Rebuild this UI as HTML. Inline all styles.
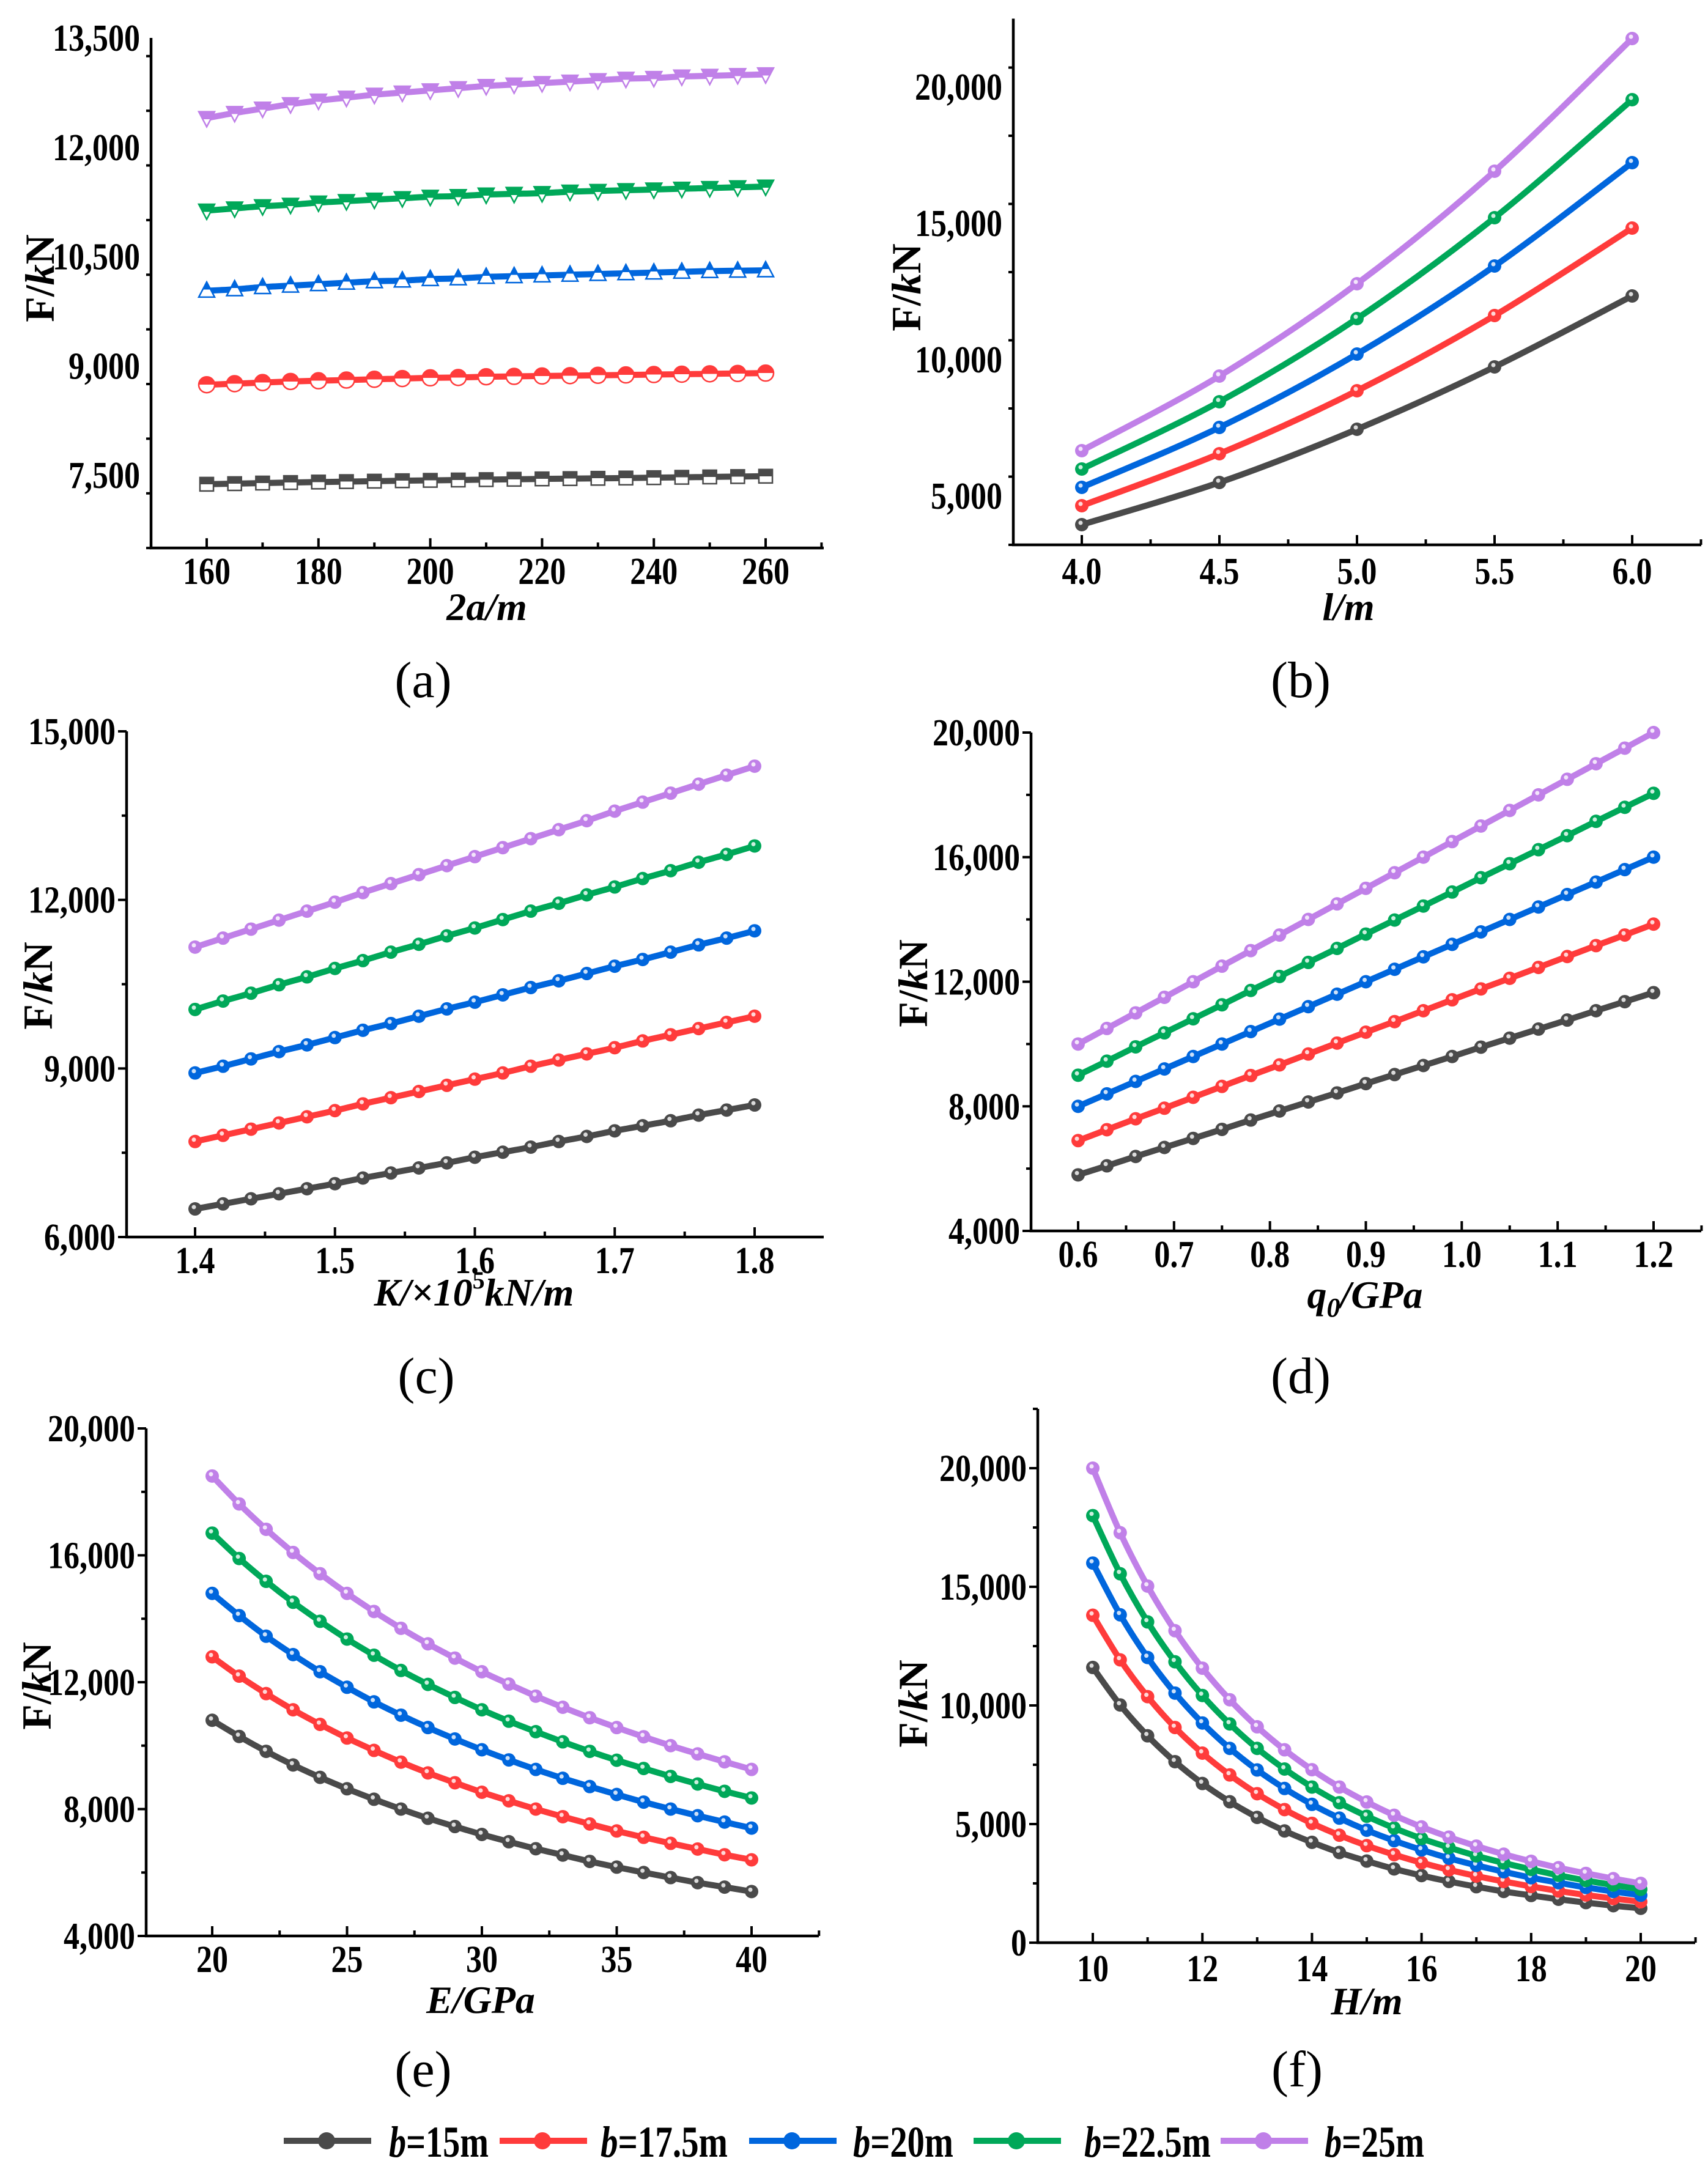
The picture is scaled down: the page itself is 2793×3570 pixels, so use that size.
<!DOCTYPE html>
<html><head><meta charset="utf-8"><style>
html,body{margin:0;padding:0;background:#fff;}
svg{display:block;font-family:"Liberation Serif",serif;}
</style></head><body>
<svg id="fig" width="2793" height="3570" viewBox="0 0 2793 3570" xmlns="http://www.w3.org/2000/svg">
<defs>
<linearGradient id="hk" x1="0" y1="0" x2="0" y2="1"><stop offset="0.5" stop-color="#4a4a4a"/><stop offset="0.5" stop-color="#fff"/></linearGradient>
<linearGradient id="hr" x1="0" y1="0" x2="0" y2="1"><stop offset="0.5" stop-color="#ff3b3b"/><stop offset="0.5" stop-color="#fff"/></linearGradient>
<linearGradient id="hb" x1="0" y1="0" x2="0" y2="1"><stop offset="0.5" stop-color="#0066dd"/><stop offset="0.5" stop-color="#fff"/></linearGradient>
<linearGradient id="hg" x1="0" y1="0" x2="0" y2="1"><stop offset="0.5" stop-color="#00a859"/><stop offset="0.5" stop-color="#fff"/></linearGradient>
<linearGradient id="hp" x1="0" y1="0" x2="0" y2="1"><stop offset="0.5" stop-color="#c080e8"/><stop offset="0.5" stop-color="#fff"/></linearGradient>
</defs>
</svg>
<script>
const seriesNames = ["b=15m","b=17.5m","b=20m","b=22.5m","b=25m"];
const seriesColors = ["#4a4a4a","#ff3b3b","#0066dd","#00a859","#c080e8"];
const halfFills = ["url(#hk)","url(#hr)","url(#hb)","url(#hg)","url(#hp)"];

// Panel (a)
const aX = [160,165,170,175,180,185,190,195,200,205,210,215,220,225,230,235,240,245,250,255,260];
const aB15 = [7375,7383,7391,7398,7405,7411,7417,7423,7428,7433,7438,7443,7448,7452,7456,7460,7465,7470,7475,7480,7485];
const aB175 = [8740,8755,8770,8785,8795,8805,8815,8825,8835,8840,8850,8855,8860,8865,8870,8875,8880,8885,8890,8895,8900];
const aB20 = [10030,10050,10080,10100,10120,10140,10160,10170,10190,10200,10220,10230,10240,10250,10260,10270,10280,10290,10300,10305,10310];
const aB225 = [11130,11160,11190,11210,11240,11260,11280,11300,11320,11330,11350,11360,11370,11390,11400,11410,11420,11430,11440,11450,11460];
const aB25 = [12400,12470,12530,12590,12640,12680,12720,12750,12780,12810,12840,12860,12880,12900,12920,12940,12950,12970,12980,12990,13000];
const aXTicks = [160,180,200,220,240,260];
const aYTicks = [7500,9000,10500,12000,13500];

// Panel (b)
const bX = [4.0,4.5,5.0,5.5,6.0];
const bB15 = [3946,5493,7444,9731,12332];
const bB175 = [4641,6547,8856,11614,14821];
const bB20 = [5314,7511,10202,13430,17220];
const bB225 = [5986,8453,11502,15202,19529];
const bB25 = [6659,9395,12780,16906,21771];
const bXTicks = [4.0,4.5,5.0,5.5,6.0];
const bYTicks = [5000,10000,15000,20000];

// Panel (c)
const cX = [1.40,1.42,1.44,1.46,1.48,1.50,1.52,1.54,1.56,1.58,1.60,1.62,1.64,1.66,1.68,1.70,1.72,1.74,1.76,1.78,1.80];
const cB15 = [6500,6590,6680,6770,6860,6950,7050,7140,7230,7320,7420,7510,7600,7700,7790,7890,7980,8070,8170,8260,8350];
const cB175 = [7700,7810,7920,8030,8140,8250,8370,8480,8590,8700,8810,8920,9040,9150,9260,9370,9490,9600,9710,9820,9930];
const cB20 = [8920,9040,9170,9300,9420,9550,9680,9800,9930,10060,10180,10310,10440,10560,10690,10820,10940,11070,11200,11320,11450];
const cB225 = [10050,10200,10340,10490,10630,10780,10920,11070,11210,11360,11500,11650,11800,11940,12090,12230,12380,12520,12670,12810,12960];
const cB25 = [11160,11320,11480,11640,11800,11960,12130,12290,12450,12610,12770,12930,13090,13250,13410,13580,13740,13900,14060,14220,14380];
const cXTicks = [1.4,1.5,1.6,1.7,1.8];
const cYTicks = [6000,9000,12000,15000];

// Panel (d)
const dX = [0.60,0.63,0.66,0.69,0.72,0.75,0.78,0.81,0.84,0.87,0.90,0.93,0.96,0.99,1.02,1.05,1.08,1.11,1.14,1.17,1.20];
const dB15 = [5800,6090,6390,6680,6970,7260,7560,7850,8140,8430,8730,9020,9310,9600,9900,10190,10480,10770,11070,11360,11650];
const dB175 = [6900,7250,7600,7940,8290,8640,8990,9330,9680,10030,10380,10720,11070,11420,11770,12110,12460,12810,13160,13500,13850];
const dB20 = [8000,8400,8800,9200,9600,10000,10400,10800,11200,11600,12000,12400,12800,13200,13600,14000,14400,14800,15200,15600,16000];
const dB225 = [9000,9450,9910,10360,10810,11260,11720,12170,12620,13070,13530,13980,14430,14880,15340,15790,16240,16690,17150,17600,18050];
const dB25 = [10000,10500,11000,11500,12000,12500,13000,13500,14000,14500,15000,15500,16000,16500,17000,17500,18000,18500,19000,19500,20000];
const dXTicks = [0.6,0.7,0.8,0.9,1.0,1.1,1.2];
const dYTicks = [4000,8000,12000,16000,20000];

// Panel (e)
const eX = [20,21,22,23,24,25,26,27,28,29,30,31,32,33,34,35,36,37,38,39,40];
const eB15 = [10800,10290,9820,9390,9000,8640,8310,8000,7710,7450,7200,6970,6750,6550,6350,6170,6000,5840,5680,5540,5400];
const eB175 = [12800,12190,11640,11130,10670,10240,9850,9480,9140,8830,8530,8260,8000,7760,7530,7310,7110,6920,6740,6560,6400];
const eB20 = [14800,14100,13450,12870,12330,11840,11380,10960,10570,10210,9870,9550,9250,8970,8710,8460,8220,8000,7790,7590,7400];
const eB225 = [16700,15900,15180,14520,13920,13360,12850,12370,11930,11520,11130,10770,10440,10120,9820,9540,9280,9030,8790,8560,8350];
const eB25 = [18500,17620,16820,16090,15420,14800,14230,13700,13210,12760,12330,11940,11560,11210,10880,10570,10280,10000,9740,9490,9250];
const eXTicks = [20,25,30,35,40];
const eYTicks = [4000,8000,12000,16000,20000];

// Panel (f)
const fX = [10,10.5,11,11.5,12,12.5,13,13.5,14,14.5,15,15.5,16,16.5,17,17.5,18,18.5,19,19.5,20];
const fB15 = [11600,10020,8720,7630,6710,5940,5280,4710,4230,3800,3440,3110,2830,2580,2360,2160,1990,1830,1690,1560,1450];
const fB175 = [13800,11920,10370,9070,7990,7070,6280,5610,5030,4530,4090,3710,3370,3070,2810,2580,2370,2180,2010,1860,1725];
const fB20 = [16000,13820,12020,10520,9260,8190,7280,6500,5830,5250,4740,4300,3910,3560,3260,2990,2740,2530,2330,2160,2000];
const fB225 = [18000,15550,13520,11840,10420,9220,8190,7320,6560,5900,5330,4830,4390,4010,3660,3360,3090,2840,2620,2430,2250];
const fB25 = [20000,17280,15030,13150,11570,10240,9100,8130,7290,6560,5930,5370,4880,4450,4070,3730,3430,3160,2920,2700,2500];
const fXTicks = [10,12,14,16,18,20];
const fYTicks = [0,5000,10000,15000,20000];

const NS = "http://www.w3.org/2000/svg";
const svg = document.getElementById('fig');
function mk(tag, attrs, parent){ const e=document.createElementNS(NS,tag); for(const k in attrs) e.setAttribute(k,attrs[k]); (parent||svg).appendChild(e); return e; }
function fmt(v,dec){ if(dec) return v.toFixed(dec); return v.toString().replace(/\B(?=(\d{3})+(?!\d))/g,","); }
function natW(s){ let w=0; for(const c of s){ w += (c===','||c==='.')?0.25:0.5; } return w; }

function smoothPath(pts){
  let d="M"+pts[0][0]+","+pts[0][1];
  for(let i=0;i<pts.length-1;i++){
    const p0=pts[Math.max(0,i-1)],p1=pts[i],p2=pts[i+1],p3=pts[Math.min(pts.length-1,i+2)];
    const c1=[p1[0]+(p2[0]-p0[0])/6,p1[1]+(p2[1]-p0[1])/6];
    const c2=[p2[0]-(p3[0]-p1[0])/6,p2[1]-(p3[1]-p1[1])/6];
    d+=" C"+c1[0]+","+c1[1]+" "+c2[0]+","+c2[1]+" "+p2[0]+","+p2[1];
  }
  return d;
}

function panel(cfg){
  const g = mk('g',{});
  
  
  const sx = v => cfg.px0 + (v-cfg.x0)/(cfg.x1-cfg.x0)*(cfg.px1-cfg.px0);
  const sy = v => cfg.py0 - (v-cfg.y0)/(cfg.y1-cfg.y0)*(cfg.py0-cfg.py1);
  const L = cfg.left, R = cfg.right, B = sy(cfg.yMin), T = sy(cfg.yMax);
  cfg.series.forEach((vals,si)=>{
    const pts = cfg.xs.map((x,i)=>[sx(x), sy(vals[i])]);
    const p = mk('path',{d:smoothPath(pts),fill:'none',stroke:seriesColors[si],'stroke-width':10,'stroke-linejoin':'round','stroke-linecap':'round'},g);
    
    
    pts.forEach((pt,i)=>{
      let m;
      if(cfg.shapes){
        const sh = cfg.shapes[si], r=13, x=pt[0], y=pt[1];
        const fill = halfFills[si];
        if(sh==='sq') m = mk('rect',{x:x-r*0.85,y:y-r*0.85,width:r*1.7,height:r*1.7,fill:fill,stroke:seriesColors[si],'stroke-width':2.5},g);
        else if(sh==='ci') m = mk('circle',{cx:x,cy:y,r:r,fill:fill,stroke:seriesColors[si],'stroke-width':2.5},g);
        else if(sh==='up') m = mk('path',{d:`M${x},${y-r*1.1} L${x+r},${y+r*0.8} L${x-r},${y+r*0.8} Z`,fill:fill,stroke:seriesColors[si],'stroke-width':2.5},g);
        else m = mk('path',{d:`M${x-r},${y-r*0.8} L${x+r},${y-r*0.8} L${x},${y+r*1.1} Z`,fill:fill,stroke:seriesColors[si],'stroke-width':2.5},g);
      } else {
        m = mk('circle',{cx:pt[0],cy:pt[1],r:11,fill:seriesColors[si]},g);
        const h = mk('circle',{cx:pt[0]-2,cy:pt[1]-3,r:3.5,fill:'#fff','fill-opacity':0.8},g);
        
        
      }
      
      
    });
  });
  const ax = mk('path',{d:`M${L},${T} L${L},${B} L${R},${B}`,fill:'none',stroke:'#000','stroke-width':4.5},g);
  
  
  for(let v=cfg.yMin; v<=cfg.yMax+1e-6; v+=cfg.yMinor){
    const y=sy(v);
    const major = cfg.yTicks.some(t=>Math.abs(t-v)<1e-6);
    const t = mk('line',{x1:L,x2:L-(major?14:8),y1:y,y2:y,stroke:'#000','stroke-width':4},g);
    
    
  }
  cfg.yTicks.forEach(v=>{
    const s=fmt(v);
    const t=mk('text',{x:L-18,y:sy(v)+21,'text-anchor':'end','font-size':62,'font-weight':'bold',textLength:natW(s)*52,lengthAdjust:'spacingAndGlyphs'},g);
    t.textContent=s;
    
    
  });
  const xstep = cfg.xMinor;
  let start = Math.ceil((cfg.x0 - (cfg.px0-L)/(cfg.px1-cfg.px0)*(cfg.x1-cfg.x0))/xstep - 1e-6)*xstep;
  for(let v=start; sx(v)<=R+1; v+=xstep){
    const x=sx(v); if(x<L+2) continue;
    const major = cfg.xTicks.some(t=>Math.abs(t-v)<1e-6);
    const t=mk('line',{x1:x,x2:x,y1:B,y2:B-(major?16:9),stroke:'#000','stroke-width':4},g);
    
    
  }
  cfg.xTicks.forEach(v=>{
    const s=fmt(v,cfg.xDec);
    const t=mk('text',{x:sx(v),y:cfg.xLabY,'text-anchor':'middle','font-size':62,'font-weight':'bold',textLength:natW(s)*52,lengthAdjust:'spacingAndGlyphs'},g);
    t.textContent=s;
    
    
  });
  const yt = mk('text',{transform:`translate(${cfg.yTitle[0]+22},${cfg.yTitle[1]}) rotate(-90)`,'text-anchor':'middle','font-size':68,'font-weight':'bold'},g);
  yt.innerHTML = 'F/<tspan font-style="italic">k</tspan>N';
  
  
  const xt = mk('text',{x:cfg.xTitle[0],y:cfg.xTitle[1],'text-anchor':'middle','font-size':64,'font-weight':'bold','font-style':'italic'},g);
  xt.innerHTML = cfg.xTitleHtml;
  
  
  const pl = mk('text',{x:cfg.lab[0],y:cfg.lab[1],'text-anchor':'middle','font-size':84},g);
  pl.textContent = '('+cfg.id+')';
  
  
}

panel({id:'a',xs:aX,series:[aB15,aB175,aB20,aB225,aB25],shapes:['sq','ci','up','dn','dn'],
  x0:160,x1:260,px0:338,px1:1252,left:247,right:1347,
  y0:7500,y1:13500,py0:777,py1:62,yMin:6500,yMax:13500,yMinor:750,yTicks:aYTicks,
  xTicks:aXTicks,xMinor:10,xDec:0,xLabY:955,yTitle:[66,455],xTitle:[796,1014],xTitleHtml:'2a/m',lab:[692,1140]});
panel({id:'b',xs:bX,series:[bB15,bB175,bB20,bB225,bB25],
  x0:4,x1:6,px0:1769,px1:2669,left:1657,right:2782,
  y0:5000,y1:20000,py0:811,py1:142,yMin:5000-80/0.0446,yMax:22500,yMinor:2500,yTicks:bYTicks,
  xTicks:bXTicks,xMinor:0.25,xDec:1,xLabY:955,yTitle:[1483,470],xTitle:[2205,1014],xTitleHtml:'l/m',lab:[2127,1140]});
panel({id:'c',xs:cX,series:[cB15,cB175,cB20,cB225,cB25],
  x0:1.4,x1:1.8,px0:319,px1:1234,left:207,right:1347,
  y0:6000,y1:15000,py0:2023,py1:1196,yMin:6000,yMax:15000,yMinor:1500,yTicks:cYTicks,
  xTicks:cXTicks,xMinor:0.05,xDec:1,xLabY:2082,yTitle:[63,1612],xTitle:[775,2135],
  xTitleHtml:'K/×10<tspan dy="-28" font-size="40" font-style="normal">5</tspan><tspan dy="28">kN/m</tspan>',lab:[697,2278]});
panel({id:'d',xs:dX,series:[dB15,dB175,dB20,dB225,dB25],
  x0:0.6,x1:1.2,px0:1763,px1:2704,left:1686,right:2782,
  y0:4000,y1:20000,py0:2013,py1:1198,yMin:4000,yMax:20000,yMinor:2000,yTicks:dYTicks,
  xTicks:dXTicks,xMinor:0.05,xDec:1,xLabY:2072,yTitle:[1494,1608],xTitle:[2232,2139],
  xTitleHtml:'q<tspan dy="14" font-size="44">0</tspan><tspan dy="-14">/GPa</tspan>',lab:[2127,2278]});
panel({id:'e',xs:eX,series:[eB15,eB175,eB20,eB225,eB25],
  x0:20,x1:40,px0:347,px1:1229,left:239,right:1339,
  y0:4000,y1:20000,py0:3166,py1:2336,yMin:4000,yMax:20000,yMinor:2000,yTicks:eYTicks,
  xTicks:eXTicks,xMinor:2.5,xDec:0,xLabY:3225,yTitle:[61,2757],xTitle:[786,3292],xTitleHtml:'E/GPa',lab:[692,3412]});
panel({id:'f',xs:fX,series:[fB15,fB175,fB20,fB225,fB25],
  x0:10,x1:20,px0:1787,px1:2683,left:1697,right:2772,
  y0:0,y1:20000,py0:3177,py1:2401,yMin:0,yMax:22500,yMinor:2500,yTicks:fYTicks,
  xTicks:fXTicks,xMinor:1,xDec:0,xLabY:3240,yTitle:[1494,2786],xTitle:[2235,3294],xTitleHtml:'H/m',lab:[2121,3412]});

const legLineX = [464,817,1225,1592,1996];
const legTextX = [636,982,1395,1773,2166];
const legTextW = [163,208,164,207,163];
const lg = mk('g',{});


seriesNames.forEach((n,i)=>{
  const l = mk('line',{x1:legLineX[i],x2:legLineX[i]+143,y1:3501,y2:3501,stroke:seriesColors[i],'stroke-width':10},lg);
  
  
  const c = mk('circle',{cx:legLineX[i]+70,cy:3501,r:14,fill:seriesColors[i]},lg);
  
  
  const t = mk('text',{x:legTextX[i],y:3527,'font-size':72,'font-weight':'bold',textLength:legTextW[i],lengthAdjust:'spacingAndGlyphs'},lg);
  t.innerHTML = '<tspan font-style="italic">b</tspan>'+n.slice(1);
  
  
});
</script>
</body></html>
